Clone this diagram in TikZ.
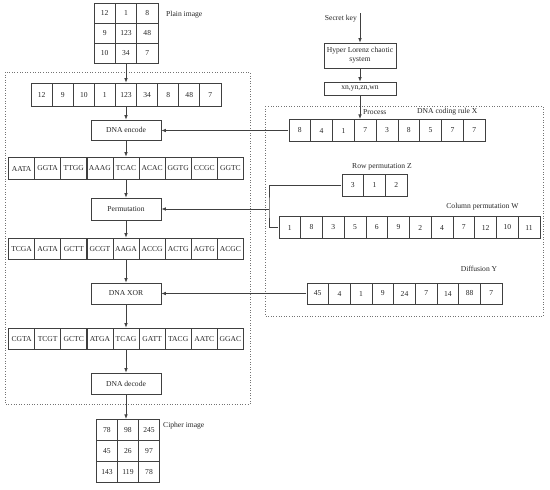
\documentclass[tikz,border=0pt]{standalone}
\usepackage{fontspec}
\setmainfont{Liberation Serif}
\usetikzlibrary{matrix,arrows.meta}
\begin{document}
\begin{tikzpicture}[x=1pt,y=-1pt,
  every node/.style={font=\fontsize{7.6}{9}\selectfont, text=black!85},
  cellrow/.style={matrix of nodes, inner sep=0pt, column sep=-0.7pt, row sep=-0.7pt,
    nodes={draw=black!75, line width=0.7pt, inner sep=0pt, anchor=center}},
  proc/.style={draw=black!75, line width=0.7pt, minimum width=70pt, minimum height=21pt, inner sep=1pt, align=center},
  arr/.style={draw=black!75, line width=0.7pt, -{Latex[length=4.5pt,width=3.5pt]}},
  conn/.style={draw=black!75, line width=0.7pt},
  region/.style={draw=black!55, line width=0.6pt, dotted},
  lbl/.style={inner sep=0pt}
]
\useasboundingbox (0,0) rectangle (550,490);

% regions
\draw[region] (5,72) rectangle (250,404);
\draw[region] (265,106) rectangle (543,316);

% main column
\matrix (plain) [cellrow, nodes={minimum width=21.3pt, minimum height=20pt}] at (126,33)
  {12 & 1 & 8\\ 9 & 123 & 48\\ 10 & 34 & 7\\};
\node (plainlbl) [lbl, anchor=west] at (166,15) {Plain image};

\matrix (r1) [cellrow, nodes={minimum width=21.1pt, minimum height=23.5pt}] at (126,95)
  {12 & 9 & 10 & 1 & 123 & 34 & 8 & 48 & 7\\};

\node (enc) [proc, minimum height=20pt] at (126,130) {DNA encode};

\matrix (r2) [cellrow, nodes={minimum width=26.1pt, minimum height=22.5pt}] at (126,168.5)
  {AATA & GGTA & TTGG & AAAG & TCAC & ACAC & GGTG & CCGC & GGTC\\};

\node (perm) [proc, minimum height=22pt] at (126,209) {Permutation};

\matrix (r3) [cellrow, nodes={minimum width=26.1pt, minimum height=21.5pt}] at (126,249)
  {TCGA & AGTA & GCTT & GCGT & AAGA & ACCG & ACTG & AGTG & ACGC\\};

\node (xor) [proc, minimum height=21pt] at (126,293.5) {DNA XOR};

\matrix (r4) [cellrow, nodes={minimum width=26.1pt, minimum height=21.5pt}] at (126,339)
  {CGTA & TCGT & GCTC & ATGA & TCAG & GATT & TACG & AATC & GGAC\\};

\node (dec) [proc, minimum height=21pt] at (126,383.5) {DNA decode};

\matrix (ciph) [cellrow, nodes={minimum width=21pt, minimum height=21pt}] at (128,451)
  {78 & 98 & 245\\ 45 & 26 & 97\\ 143 & 119 & 78\\};
\node (ciphlbl) [lbl, anchor=west] at (163,426) {Cipher image};

\draw[arr] (plain.south) -- (plain.south |- r1.north);
\draw[arr] (r1.south) -- (r1.south |- enc.north);
\draw[arr] (enc.south) -- (enc.south |- r2.north);
\draw[arr] (r2.south) -- (r2.south |- perm.north);
\draw[arr] (perm.south) -- (perm.south |- r3.north);
\draw[arr] (r3.south) -- (r3.south |- xor.north);
\draw[arr] (xor.south) -- (xor.south |- r4.north);
\draw[arr] (r4.south) -- (r4.south |- dec.north);
\draw[arr] (dec.south) -- (dec.south |- ciph.north);

% right side
\coordinate (key) at (360,13);
\node (keylbl) [lbl, anchor=east] at (357,19) {Secret key};
\node (hyper) [proc, minimum width=72pt, minimum height=25pt] at (360,55.5) {Hyper Lorenz chaotic\\system};
\node (xn) [proc, minimum width=72pt, minimum height=13pt] at (360,88.5) {xn,yn,zn,wn};

\matrix (rX) [cellrow, nodes={minimum width=21.8pt, minimum height=22pt}] at (387,130.5)
  {8 & 4 & 1 & 7 & 3 & 8 & 5 & 7 & 7\\};
\node (proclbl) [lbl, anchor=west] at (363,112) {Process};
\node (xlbl) [lbl, anchor=west] at (417,112) {DNA coding rule X};

\draw[arr] (key) -- (hyper.north);
\draw[arr] (hyper.south) -- (xn.north);
\draw[arr] (xn.south) -- (xn.south |- rX.north);
\draw[arr] (rX.west) -- (rX.west -| enc.east);

\matrix (rZ) [cellrow, nodes={minimum width=21.7pt, minimum height=22pt}] at (374.5,185)
  {3 & 1 & 2\\};
\node (zlbl) [lbl] at (382,167) {Row permutation Z};

\matrix (rW) [cellrow, nodes={minimum width=21.75pt, minimum height=21.5pt}] at (409.5,227.5)
  {1 & 8 & 3 & 5 & 6 & 9 & 2 & 4 & 7 & 12 & 10 & 11\\};
\node (wlbl) [lbl] at (482.5,207) {Column permutation W};

\coordinate (br) at (269,209);
\draw[conn] (rZ.west) -| (br) |- (rW.west);
\draw[arr] (br) -- (br -| perm.east);

\matrix (rY) [cellrow, nodes={minimum width=21.7pt, minimum height=21pt}] at (404.5,293.5)
  {45 & 4 & 1 & 9 & 24 & 7 & 14 & 88 & 7\\};
\node (ylbl) [lbl] at (479,269) {Diffusion Y};

\draw[arr] (rY.west) -- (rY.west -| xor.east);
\end{tikzpicture}
\end{document}
